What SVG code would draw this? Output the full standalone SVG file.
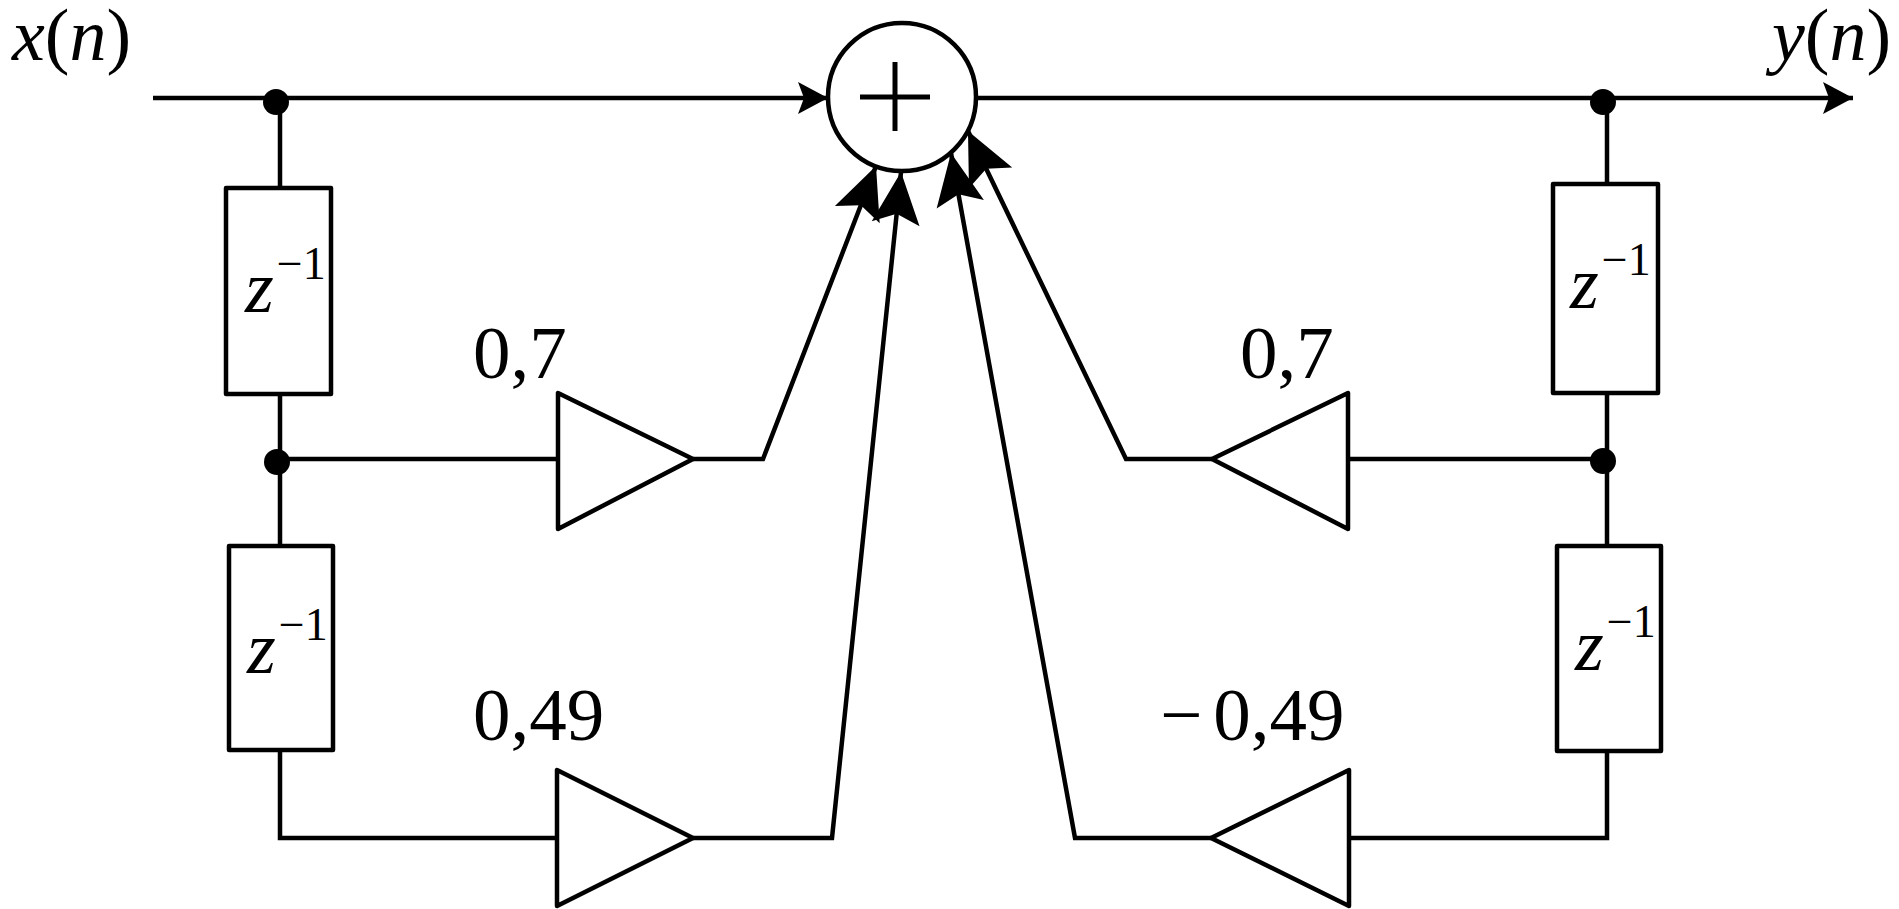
<svg xmlns="http://www.w3.org/2000/svg" width="1899" height="909" viewBox="0 0 1899 909">
<style>
.ln{fill:none;stroke:#000;stroke-width:4.5;stroke-linejoin:miter}
.blk{fill:#fff;stroke:#000;stroke-width:4.5;stroke-linejoin:round}
.pl{fill:none;stroke:#000;stroke-width:5}
.dot{fill:#000}
.t{font-family:"Liberation Serif","Times New Roman",serif;font-size:75px;fill:#000}
.z{font-family:"Liberation Serif","Times New Roman",serif;font-size:74px;fill:#000}
.it{font-style:italic}
.sup{font-size:46px;font-style:normal}
</style>
<defs>
<marker id="ah" markerUnits="userSpaceOnUse" markerWidth="40" markerHeight="40" refX="30" refY="16" orient="auto" overflow="visible">
<path d="M0,0 L30,16 L0,32 L6,16 Z" fill="#000"/>
</marker>
<marker id="ahd" markerUnits="userSpaceOnUse" markerWidth="60" markerHeight="60" refX="52" refY="24" orient="auto" overflow="visible">
<path d="M0,0 L52,24 L0,48 L10,24 Z" fill="#000"/>
</marker>
</defs>

<g id="connectors">
<line class="ln" x1="153" y1="98" x2="828" y2="98" marker-end="url(#ah)"/>
<line class="ln" x1="977" y1="98" x2="1853" y2="98" marker-end="url(#ah)"/>
<line class="ln" x1="280" y1="98" x2="280" y2="188"/>
<line class="ln" x1="280" y1="394" x2="280" y2="546"/>
<polyline class="ln" points="280,750 280,838 557,838"/>
<line class="ln" x1="280" y1="459" x2="558" y2="459"/>
<line class="ln" x1="1607" y1="98" x2="1607" y2="184"/>
<line class="ln" x1="1607" y1="393" x2="1607" y2="546"/>
<polyline class="ln" points="1607,751 1607,838 1349,838"/>
<line class="ln" x1="1607" y1="459" x2="1348" y2="459"/>
<polyline class="ln" points="693,459 763,459 876,166" marker-end="url(#ahd)"/>
<polyline class="ln" points="693,838 832,838 901,172" marker-end="url(#ahd)"/>
<polyline class="ln" points="1212,459 1126,459 968,131" marker-end="url(#ahd)"/>
<polyline class="ln" points="1211,838 1075,838 951,153" marker-end="url(#ahd)"/>
</g>

<g id="adder">
<circle class="blk" cx="902" cy="97" r="74"/>
<line class="pl" x1="860" y1="97" x2="930" y2="97"/>
<line class="pl" x1="895" y1="62" x2="895" y2="131"/>
</g>

<g id="dots">
<circle class="dot" cx="276" cy="102" r="13"/>
<circle class="dot" cx="277" cy="462" r="13"/>
<circle class="dot" cx="1603" cy="102" r="13"/>
<circle class="dot" cx="1603" cy="461" r="13"/>
</g>

<g id="delay-left-1">
<rect class="blk" x="226" y="188" width="105" height="206"/>
<text class="z" x="245" y="312"><tspan class="it">z</tspan><tspan class="sup" dx="3" dy="-33">−1</tspan></text>
</g>
<g id="delay-left-2">
<rect class="blk" x="229" y="546" width="104" height="204"/>
<text class="z" x="247" y="673"><tspan class="it">z</tspan><tspan class="sup" dx="3" dy="-33">−1</tspan></text>
</g>
<g id="delay-right-1">
<rect class="blk" x="1553" y="184" width="105" height="209"/>
<text class="z" x="1570" y="308"><tspan class="it">z</tspan><tspan class="sup" dx="3" dy="-33">−1</tspan></text>
</g>
<g id="delay-right-2">
<rect class="blk" x="1557" y="546" width="104" height="205"/>
<text class="z" x="1575" y="670"><tspan class="it">z</tspan><tspan class="sup" dx="3" dy="-33">−1</tspan></text>
</g>

<g id="gain-left-1">
<polygon class="blk" points="558,393 558,529 693,459"/>
<text class="t" x="473" y="378">0,7</text>
</g>
<g id="gain-left-2">
<polygon class="blk" points="557,770 557,906 693,838"/>
<text class="t" x="473" y="740">0,49</text>
</g>
<g id="gain-right-1">
<polygon class="blk" points="1348,393 1348,529 1212,459"/>
<text class="t" x="1240" y="378">0,7</text>
</g>
<g id="gain-right-2">
<polygon class="blk" points="1349,770 1349,906 1211,838"/>
<text class="t" x="1160" y="740">−<tspan dx="11">0,49</tspan></text>
</g>

<g id="labels">
<text class="t" x="12" y="60" style="font-size:74px"><tspan class="it">x</tspan>(<tspan class="it">n</tspan>)</text>
<text class="t" x="1772" y="60" style="font-size:74px"><tspan class="it">y</tspan>(<tspan class="it">n</tspan>)</text>
</g>
</svg>
